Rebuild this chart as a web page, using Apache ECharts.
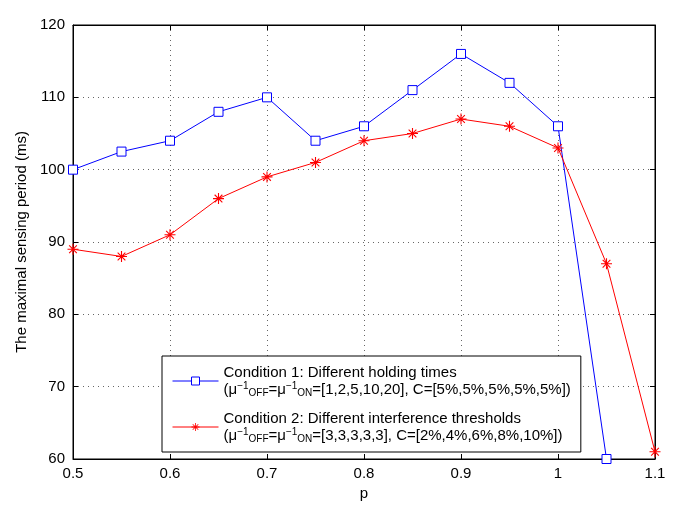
<!DOCTYPE html>
<html><head><meta charset="utf-8">
<script src="https://cdn.jsdelivr.net/npm/echarts@6/dist/echarts.min.js"></script>
<style>html,body{margin:0;padding:0;background:#fff}#c{width:685px;height:509px}</style>
</head><body><div id="c"></div>
<script>
const pValues = [0.5,0.55,0.6,0.65,0.7,0.75,0.8,0.85,0.9,0.95,1.0,1.05,1.1];
const cond1 = [100,102.5,104,108,110,104,106,111,116,112,106,60,null];
const cond2 = [89,88,91,96,99,101,104,105,107,106,103,87,61];
const seriesNames = ['Condition 1','Condition 2'];
const xTicks = {min:0.5,max:1.1,interval:0.1};
const yTicks = {min:60,max:120,interval:10};

const FONT = '"Liberation Sans", Arial, sans-serif';
const star = 'path://M-1,-10L1,-10L1,10L-1,10Z M-10,-1L10,-1L10,1L-10,1Z M-7.7,-6.3L-6.3,-7.7L7.7,6.3L6.3,7.7Z M-7.7,6.3L6.3,-7.7L7.7,-6.3L-6.3,7.7Z';

const chart = echarts.init(document.getElementById('c'));
const gridLine = {show:true,lineStyle:{color:'#666',type:[1,4],width:1}};
chart.setOption({
  animation:false,
  grid:{left:73,right:30,top:25,bottom:50,show:true,borderColor:'#000',borderWidth:1},
  xAxis:[{
    type:'value',min:xTicks.min,max:xTicks.max,interval:xTicks.interval,
    name:'p',nameLocation:'middle',nameGap:24,
    nameTextStyle:{fontFamily:FONT,fontSize:15,color:'#000'},
    axisLine:{lineStyle:{color:'#000'}},
    axisTick:{inside:true,length:5,lineStyle:{color:'#000'}},
    axisLabel:{fontFamily:FONT,fontSize:15,color:'#000',margin:7,formatter:v=>String(Math.round(v*10)/10)},
    splitLine:gridLine
  },{
    type:'value',position:'top',min:xTicks.min,max:xTicks.max,interval:xTicks.interval,
    axisLine:{lineStyle:{color:'#000'}},
    axisTick:{inside:true,length:5,lineStyle:{color:'#000'}},
    axisLabel:{show:false},splitLine:{show:false}
  }],
  yAxis:[{
    type:'value',min:yTicks.min,max:yTicks.max,interval:yTicks.interval,
    name:'The maximal sensing period (ms)',nameLocation:'middle',nameGap:30,
    nameTextStyle:{fontFamily:FONT,fontSize:15,color:'#000'},
    axisLine:{lineStyle:{color:'#000'}},
    axisTick:{inside:true,length:5,lineStyle:{color:'#000'}},
    axisLabel:{fontFamily:FONT,fontSize:15,color:'#000',margin:8},
    splitLine:gridLine
  },{
    type:'value',position:'right',min:yTicks.min,max:yTicks.max,interval:yTicks.interval,
    axisLine:{lineStyle:{color:'#000'}},
    axisTick:{inside:true,length:5,lineStyle:{color:'#000'}},
    axisLabel:{show:false},splitLine:{show:false}
  }],
  legend:{
    orient:'vertical',left:162,top:356,width:406,
    backgroundColor:'#fff',borderColor:'#000',borderWidth:1,
    padding:[8,10,8,10],itemGap:12,itemWidth:46,itemHeight:10,
    lineStyle:{width:1},
    textStyle:{fontFamily:FONT,fontSize:15,color:'#000',lineHeight:17,
      rich:{
        sup:{fontFamily:FONT,fontSize:10,color:'#000',verticalAlign:'top',lineHeight:17},
        sub:{fontFamily:FONT,fontSize:10,color:'#000',verticalAlign:'bottom',lineHeight:17}
      }},
    formatter:function(name){
      if(name===seriesNames[0]) return 'Condition 1: Different holding times\n(μ{sup|−1}{sub|OFF}=μ{sup|−1}{sub|ON}=[1,2,5,10,20], C=[5%,5%,5%,5%,5%])';
      return 'Condition 2: Different interference thresholds\n(μ{sup|−1}{sub|OFF}=μ{sup|−1}{sub|ON}=[3,3,3,3,3], C=[2%,4%,6%,8%,10%])';
    },
    data:[
      {name:seriesNames[0],itemStyle:{color:'#fff',borderColor:'#0000ff',borderWidth:1}},
      {name:seriesNames[1]}
    ]
  },
  series:[{
    name:seriesNames[0],type:'line',data:pValues.map((p,i)=>[p,cond1[i]]),
    color:'#0000ff',lineStyle:{width:1,color:'#0000ff'},
    symbol:'rect',symbolSize:9,
    itemStyle:{color:'#fff',borderColor:'#0000ff',borderWidth:1},
    clip:false
  },{
    name:seriesNames[1],type:'line',data:pValues.map((p,i)=>[p,cond2[i]]),
    color:'#ff0000',lineStyle:{width:1,color:'#ff0000'},
    symbol:star,symbolSize:11,symbolKeepAspect:true,
    itemStyle:{color:'#ff0000'},
    clip:false
  }]
});
</script></body></html>
